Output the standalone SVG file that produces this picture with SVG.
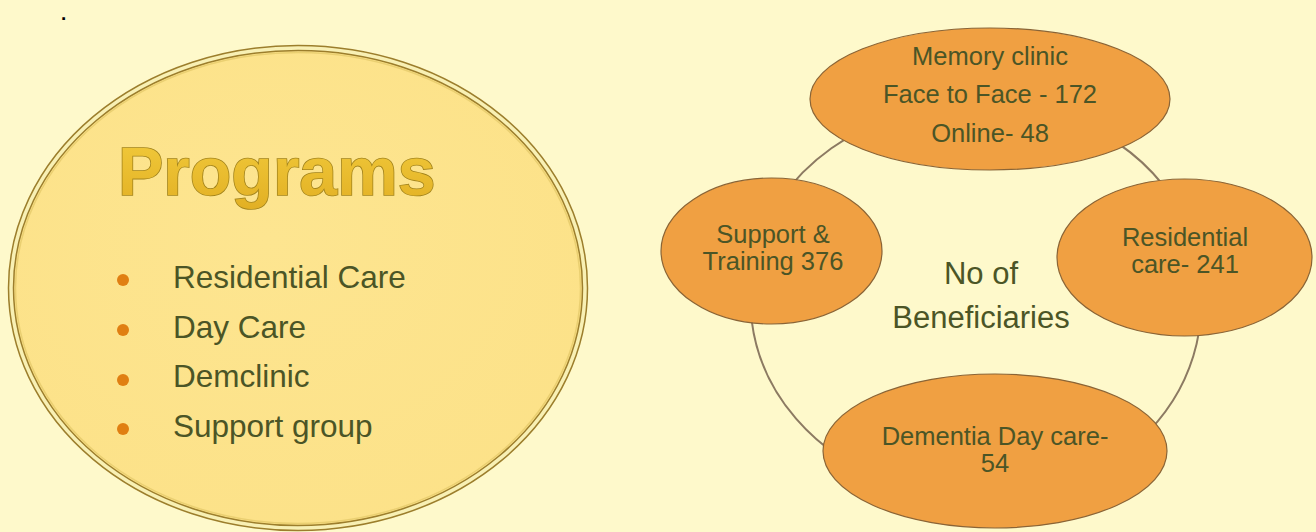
<svg xmlns="http://www.w3.org/2000/svg" width="1316" height="532" viewBox="0 0 1316 532">
  <style>
    .bg { fill: #FEF9CB; }
    .txt { font-family: "Liberation Sans", Arial, sans-serif; fill: #4B5526; }
    .item { font-size: 31.5px; }
    .node { fill: #F0A042; stroke: #8A6436; stroke-width: 1.2; }
    .ntxt { font-size: 25.5px; text-anchor: middle; }
    .conn { fill: none; stroke: #8C7A62; stroke-width: 2; }
    .bullet { fill: #E07F12; }
    .title { font-family: "Liberation Sans", Arial, sans-serif; font-weight: bold; font-size: 68px; fill: url(#gold); stroke: #A3841C; stroke-width: 1.6; paint-order: stroke; }
  </style>
  <defs>
    <linearGradient id="gold" x1="0" y1="0" x2="0" y2="1">
      <stop offset="0" stop-color="#F2CB3C"/>
      <stop offset="1" stop-color="#E2B024"/>
    </linearGradient>
    <radialGradient id="disc" cx="0.45" cy="0.4" r="0.75">
      <stop offset="0" stop-color="#FDE590"/>
      <stop offset="1" stop-color="#FCE187"/>
    </radialGradient>
  </defs>

  <rect class="bg" x="0" y="0" width="1316" height="532"/>
  <text class="txt" x="61" y="19.5" font-size="19" font-weight="bold" style="fill:#000">.</text>

  <!-- Left program disc -->
  <g id="programs">
    <ellipse cx="298" cy="288" rx="287" ry="240" fill="url(#disc)"/>
    <ellipse cx="298" cy="288" rx="287" ry="240" fill="none" stroke="#9C7E2C" stroke-width="6.5"/>
    <ellipse cx="298" cy="288" rx="287" ry="240" fill="none" stroke="#F8F0B4" stroke-width="3.5"/>
    <ellipse cx="298" cy="288" rx="282.5" ry="235.5" fill="none" stroke="#E3C866" stroke-width="1.5" opacity="0.7"/>
    <text class="title" x="118" y="195">Programs</text>
    <circle class="bullet" cx="123" cy="280" r="6"/>
    <circle class="bullet" cx="123" cy="330" r="6"/>
    <circle class="bullet" cx="123" cy="380" r="6"/>
    <circle class="bullet" cx="123" cy="429" r="6"/>
    <text class="txt item" x="173" y="288">Residential Care</text>
    <text class="txt item" x="173" y="338">Day Care</text>
    <text class="txt item" x="173" y="387">Demclinic</text>
    <text class="txt item" x="173" y="437">Support group</text>
  </g>

  <!-- Connectors (cycle arcs) -->
  <g id="connectors">
    <path class="conn" d="M 1090 127 A 225 197 0 0 1 1180 210"/>
    <path class="conn" d="M 1195 260 A 225 197 0 0 1 1140 440"/>
    <path class="conn" d="M 995 496 A 225 197 0 0 1 765 230"/>
    <path class="conn" d="M 780 200 A 225 197 0 0 1 900 115"/>
  </g>

  <!-- Center label -->
  <g id="center">
    <text class="txt" x="981" y="284" font-size="31" text-anchor="middle">No of</text>
    <text class="txt" x="981" y="328" font-size="31" text-anchor="middle">Beneficiaries</text>
  </g>

  <g id="memory">
    <ellipse class="node" cx="990" cy="99" rx="180" ry="71"/>
    <text class="txt ntxt" x="990" y="65" font-size="26.5px">Memory clinic</text>
    <text class="txt ntxt" x="990" y="103" font-size="26.5px">Face to Face - 172</text>
    <text class="txt ntxt" x="990" y="142" font-size="26.5px">Online- 48</text>
  </g>

  <g id="residential">
    <ellipse class="node" cx="1184.5" cy="257.5" rx="127.5" ry="78.5"/>
    <text class="txt ntxt" x="1185" y="246">Residential</text>
    <text class="txt ntxt" x="1185" y="273">care- 241</text>
  </g>

  <g id="dementia">
    <ellipse class="node" cx="995" cy="451" rx="172" ry="77"/>
    <text class="txt ntxt" x="995" y="445">Dementia Day care-</text>
    <text class="txt ntxt" x="995" y="472">54</text>
  </g>

  <g id="support">
    <ellipse class="node" cx="771.5" cy="251" rx="110.5" ry="73"/>
    <text class="txt ntxt" x="773" y="243">Support &amp;</text>
    <text class="txt ntxt" x="773" y="270">Training 376</text>
  </g>
</svg>
